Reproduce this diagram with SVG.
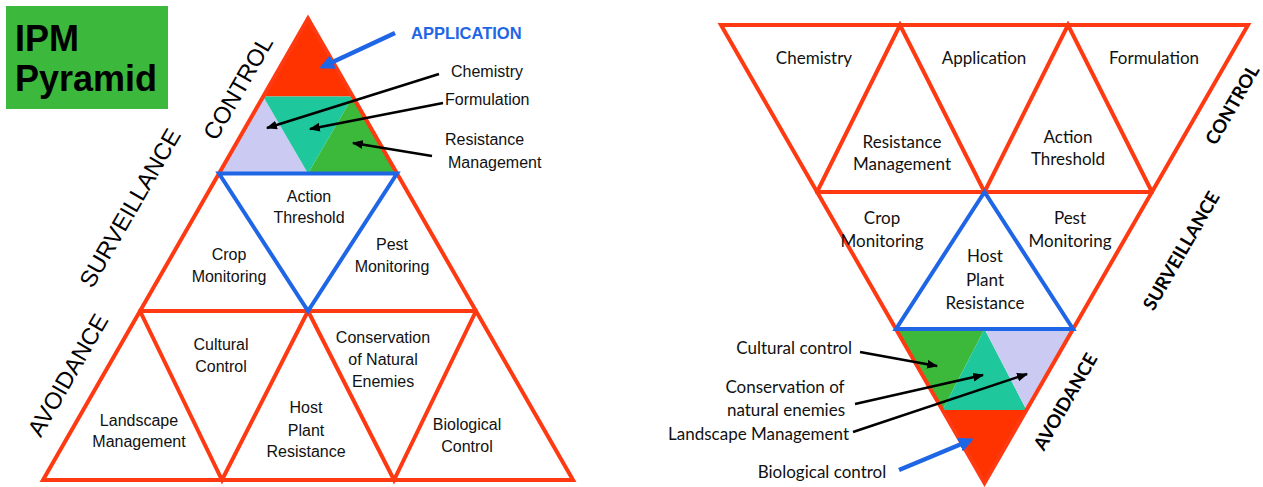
<svg xmlns="http://www.w3.org/2000/svg" width="1263" height="487" viewBox="0 0 1263 487">
<defs>
<style>
.bg{fill:#ffffff}
.red{fill:none;stroke:#ff3a12;stroke-width:4;stroke-linejoin:miter;stroke-linecap:round}
.blue{fill:none;stroke:#1f66e6;stroke-width:4;stroke-linejoin:miter}
.fr{fill:#ff3300}
.fg{fill:#3cb83a}
.ft{fill:#1ec89c}
.fl{fill:#cbcaf2}
.lt{font-family:"Liberation Sans",Arial,sans-serif;font-size:16px;fill:#111;text-anchor:middle}
.rt{font-family:Lato,"Liberation Sans",sans-serif;font-size:17px;fill:#111;text-anchor:middle}
.side{font-family:"Liberation Sans",Arial,sans-serif;font-size:23.5px;fill:#000;text-anchor:middle}
.rside{font-family:Lato,"Liberation Sans",sans-serif;font-weight:bold;font-size:18.5px;fill:#000;text-anchor:middle}
.arr{fill:none;stroke:#000;stroke-width:2.5}
.barr{fill:none;stroke:#1f66e6;stroke-width:4.5}
</style>
<marker id="ah" viewBox="0 0 10 8" refX="9" refY="4" markerWidth="11" markerHeight="9" orient="auto" markerUnits="userSpaceOnUse"><path d="M0,0 L10,4 L0,8 z" fill="#000"/></marker>
<marker id="bh" viewBox="0 0 10 10" refX="8" refY="5" markerWidth="15" markerHeight="15" orient="auto" markerUnits="userSpaceOnUse"><path d="M0,0 L10,5 L0,10 z" fill="#1f66e6"/></marker>
</defs>
<rect class="bg" x="0" y="0" width="1263" height="487"/>

<g id="title">
<rect x="6" y="6" width="162" height="103" fill="#3cb83c"/>
<text x="15" y="51" font-family="Liberation Sans,Arial,sans-serif" font-weight="bold" font-size="36" fill="#000">IPM</text>
<text x="15" y="91" font-family="Liberation Sans,Arial,sans-serif" font-weight="bold" font-size="36" fill="#000">Pyramid</text>
</g>

<!-- LEFT PYRAMID -->
<g id="L-application"><polygon class="fr" points="308,18.5 263.2,96.5 352.8,96.5"/></g>
<g id="L-chemistry"><polygon class="fl" points="263.2,96.5 219,173.5 308,173.5"/></g>
<g id="L-formulation"><polygon class="ft" points="263.2,96.5 352.8,96.5 308,173.5"/></g>
<g id="L-resistance"><polygon class="fg" points="352.8,96.5 308,173.5 397,173.5"/></g>

<g id="L-outline">
<polygon class="red" points="308,18.5 43,480 573,480"/>
<line class="red" x1="140" y1="311" x2="476" y2="311"/>
<polyline class="red" points="140,311 222,480 308,311 394,480 476,311"/>
</g>
<g id="L-action-threshold">
<polygon class="blue" points="219,173.5 397,173.5 308,311"/>
<text class="lt" x="309" y="202">Action</text>
<text class="lt" x="309" y="223">Threshold</text>
</g>
<g id="L-crop"><text class="lt" x="229" y="260">Crop</text><text class="lt" x="229" y="282">Monitoring</text></g>
<g id="L-pest"><text class="lt" x="392" y="250">Pest</text><text class="lt" x="392" y="272">Monitoring</text></g>
<g id="L-cultural"><text class="lt" x="221" y="350">Cultural</text><text class="lt" x="221" y="372">Control</text></g>
<g id="L-conservation"><text class="lt" x="383" y="343">Conservation</text><text class="lt" x="383" y="365">of Natural</text><text class="lt" x="383" y="387">Enemies</text></g>
<g id="L-landscape"><text class="lt" x="139" y="426">Landscape</text><text class="lt" x="139" y="447">Management</text></g>
<g id="L-host"><text class="lt" x="306" y="413">Host</text><text class="lt" x="306" y="436">Plant</text><text class="lt" x="306" y="457">Resistance</text></g>
<g id="L-biological"><text class="lt" x="467" y="430">Biological</text><text class="lt" x="467" y="452">Control</text></g>

<g id="L-side-labels">
<text class="side" transform="translate(245,92) rotate(-60)">CONTROL</text>
<text class="side" transform="translate(137,212) rotate(-60)">SURVEILLANCE</text>
<text class="side" transform="translate(75,379) rotate(-60)">AVOIDANCE</text>
</g>
<g id="L-callouts">
<text x="411" y="39" font-family="Liberation Sans,Arial,sans-serif" font-weight="bold" font-size="16.5" fill="#1f66e6">APPLICATION</text>
<text x="451" y="77" font-family="Liberation Sans,Arial,sans-serif" font-size="16" fill="#111">Chemistry</text>
<text x="445" y="105" font-family="Liberation Sans,Arial,sans-serif" font-size="16" fill="#111">Formulation</text>
<text x="445" y="145" font-family="Liberation Sans,Arial,sans-serif" font-size="16" fill="#111">Resistance</text>
<text x="448" y="168" font-family="Liberation Sans,Arial,sans-serif" font-size="16" fill="#111">Management</text>
</g>

<!-- RIGHT PYRAMID -->
<g id="R-cultural"><polygon class="fg" points="896,329 984.5,329 942.5,410"/></g>
<g id="R-conservation"><polygon class="ft" points="984.5,329 942.5,410 1026.5,410"/></g>
<g id="R-landscape"><polygon class="fl" points="984.5,329 1073,329 1026.5,410"/></g>
<g id="R-biological"><polygon class="fr" points="942.5,410 1026.5,410 984.5,483"/></g>

<g id="R-outline">
<polygon class="red" points="721,25 1248,25 984.5,483"/>
<line class="red" x1="817" y1="192" x2="1152" y2="192"/>
<polyline class="red" points="817,192 900,25 984.5,192 1068,25 1152,192"/>
</g>
<g id="R-host">
<polygon class="blue" points="984.5,192 896,329 1073,329"/>
<text class="rt" x="985" y="262">Host</text>
<text class="rt" x="985" y="286">Plant</text>
<text class="rt" x="985" y="309">Resistance</text>
</g>
<g id="R-chemistry"><text class="rt" x="814" y="64">Chemistry</text></g>
<g id="R-application"><text class="rt" x="984" y="64">Application</text></g>
<g id="R-formulation"><text class="rt" x="1154" y="64">Formulation</text></g>
<g id="R-resistance"><text class="rt" x="902" y="148">Resistance</text><text class="rt" x="902" y="170">Management</text></g>
<g id="R-action"><text class="rt" x="1068" y="143">Action</text><text class="rt" x="1068" y="165">Threshold</text></g>
<g id="R-crop"><text class="rt" x="882" y="224">Crop</text><text class="rt" x="882" y="247">Monitoring</text></g>
<g id="R-pest"><text class="rt" x="1070" y="224">Pest</text><text class="rt" x="1070" y="247">Monitoring</text></g>

<g id="R-side-labels">
<text class="rside" transform="translate(1238,108) rotate(-60)">CONTROL</text>
<text class="rside" transform="translate(1187,254) rotate(-60)">SURVEILLANCE</text>
<text class="rside" transform="translate(1071,405) rotate(-60)">AVOIDANCE</text>
</g>
<g id="R-callouts">
<text class="rt" x="852" y="354" style="text-anchor:end">Cultural control</text>
<text class="rt" x="785" y="393">Conservation of</text>
<text class="rt" x="786" y="416">natural enemies</text>
<text class="rt" x="849" y="440" style="text-anchor:end">Landscape Management</text>
<text class="rt" x="822" y="478">Biological control</text>
</g>

<g id="connectors">
<line class="barr" x1="395" y1="33" x2="322" y2="67" marker-end="url(#bh)"/>
<line class="arr" x1="439" y1="74" x2="267" y2="128" marker-end="url(#ah)"/>
<line class="arr" x1="443" y1="103" x2="310" y2="129" marker-end="url(#ah)"/>
<line class="arr" x1="432" y1="156" x2="353" y2="143" marker-end="url(#ah)"/>
<line class="arr" x1="860" y1="352" x2="937" y2="366" marker-end="url(#ah)"/>
<line class="arr" x1="855" y1="404" x2="983" y2="375" marker-end="url(#ah)"/>
<line class="arr" x1="853" y1="432" x2="1027" y2="374" marker-end="url(#ah)"/>
<line class="barr" x1="899" y1="470" x2="971" y2="440" marker-end="url(#bh)"/>
</g>
</svg>
